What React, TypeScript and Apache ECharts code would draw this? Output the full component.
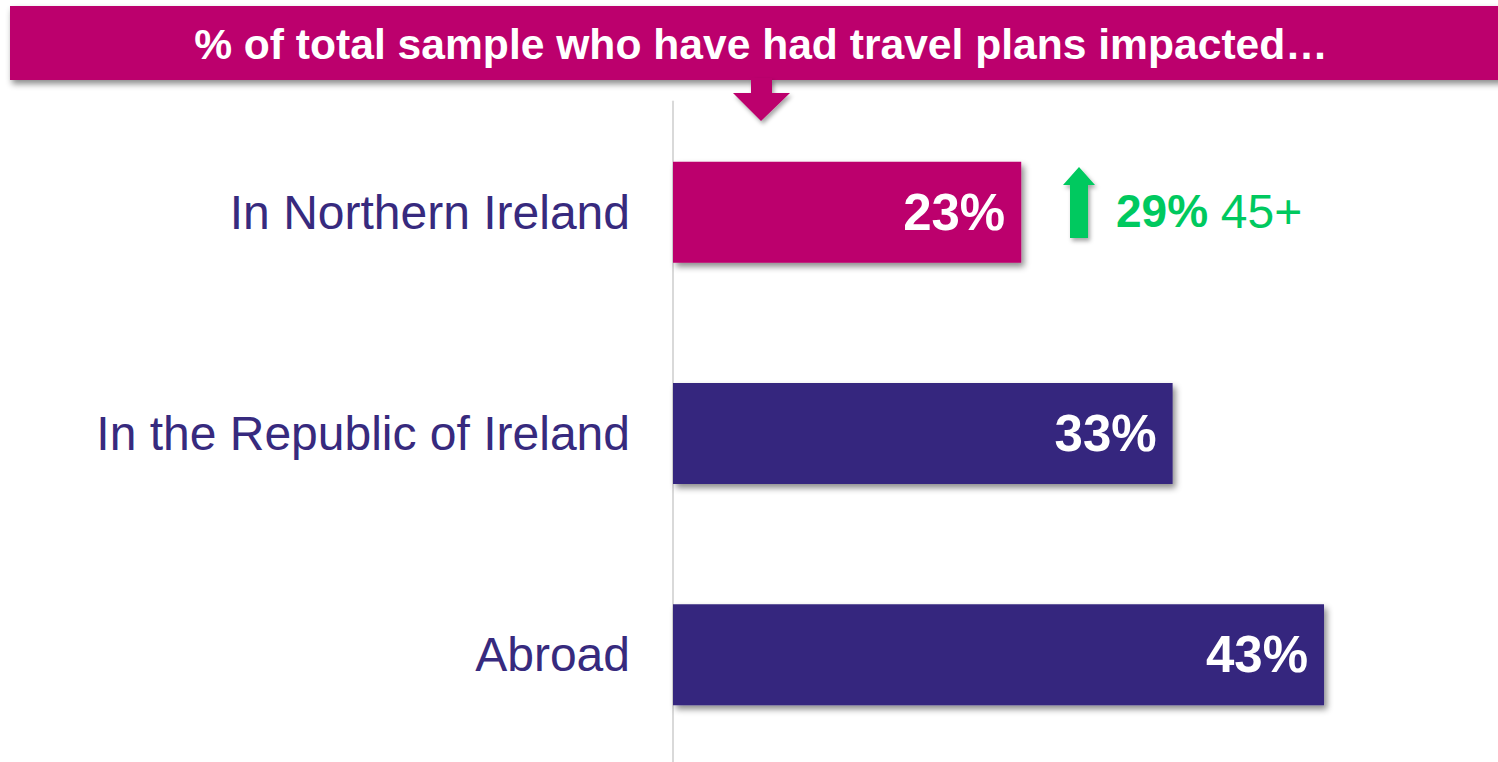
import React, { useEffect, useRef } from "react";
import * as echarts from "echarts";

const categories = ["In Northern Ireland", "In the Republic of Ireland", "Abroad"];
const values = [23, 33, 43];
const barColors = ["#bc006d", "#36287e", "#36287e"];
const titleText = "% of total sample who have had travel plans impacted…";
const highlightValue = "29%";
const highlightGroup = "45+";

const FONT = "'Liberation Sans', Arial, sans-serif";
const GREEN = "#00c95f";

export default function App() {
  const ref = useRef<HTMLDivElement>(null);
  useEffect(() => {
    if (!ref.current) return;
    const chart = echarts.init(ref.current, null, { renderer: "svg" });
    chart.setOption({
      animation: false,
      backgroundColor: "#ffffff",
      grid: { left: 673, top: 101.5, width: 757, height: 664, containLabel: false },
      xAxis: {
        type: "value",
        min: 0,
        max: 50,
        show: false,
        splitLine: { show: false },
      },
      yAxis: {
        type: "category",
        data: categories,
        inverse: true,
        axisLine: { show: true, lineStyle: { color: "#d9d9d9", width: 2 } },
        axisTick: { show: false },
        axisLabel: {
          margin: 43,
          fontSize: 48,
          fontFamily: FONT,
          color: "#372a7e",
        },
      },
      series: [
        {
          type: "bar",
          barWidth: 101,
          data: values.map((v, i) => ({
            value: v,
            itemStyle: {
              color: barColors[i],
              shadowColor: "rgba(0,0,0,0.45)",
              shadowBlur: 6,
              shadowOffsetX: 3,
              shadowOffsetY: 4,
            },
          })),
          label: {
            show: true,
            position: "insideRight",
            distance: 16,
            formatter: "{c}%",
            color: "#ffffff",
            fontWeight: "bold",
            fontSize: 51,
            fontFamily: FONT,
          },
        },
      ],
      graphic: [
        {
          type: "rect",
          shape: { x: 10, y: 6, width: 1500, height: 74 },
          style: {
            fill: "#bc006d",
            shadowColor: "rgba(0,0,0,0.45)",
            shadowBlur: 6,
            shadowOffsetX: 2,
            shadowOffsetY: 4,
          },
          z: 10,
        },
        {
          type: "polygon",
          shape: {
            points: [
              [751, 78],
              [772, 78],
              [772, 93],
              [790, 93],
              [761, 121],
              [733, 93],
              [751, 93],
            ],
          },
          style: {
            fill: "#bc006d",
            shadowColor: "rgba(0,0,0,0.35)",
            shadowBlur: 4,
            shadowOffsetX: 2,
            shadowOffsetY: 3,
          },
          z: 10,
        },
        {
          type: "text",
          x: 761,
          y: 44,
          style: {
            text: titleText,
            fill: "#ffffff",
            fontSize: 42.6,
            fontWeight: "bold",
            fontFamily: FONT,
            align: "center",
            verticalAlign: "middle",
          },
          z: 11,
        },
        {
          type: "polygon",
          shape: {
            points: [
              [1070, 185],
              [1063, 185],
              [1079, 167],
              [1095, 185],
              [1088, 185],
              [1088, 238],
              [1070, 238],
            ],
          },
          style: {
            fill: GREEN,
            shadowColor: "rgba(0,0,0,0.35)",
            shadowBlur: 4,
            shadowOffsetX: 2,
            shadowOffsetY: 3,
          },
          z: 10,
        },
        {
          type: "text",
          x: 1116,
          y: 211,
          style: {
            text: `{b|${highlightValue}} {n|${highlightGroup}}`,
            rich: {
              b: { fontSize: 46, fontWeight: "bold", fill: GREEN, fontFamily: FONT },
              n: { fontSize: 48, fill: GREEN, fontFamily: FONT },
            },
            fill: GREEN,
            fontSize: 46,
            fontFamily: FONT,
            align: "left",
            verticalAlign: "middle",
          },
          z: 10,
        },
      ],
    });
    return () => chart.dispose();
  }, []);
  return (
    <div
      style={{
        position: "fixed",
        left: 0,
        top: 0,
        width: 1498,
        height: 762,
        overflow: "hidden",
      }}
    >
      <div ref={ref} style={{ width: 1498, height: 780 }} />
    </div>
  );
}
